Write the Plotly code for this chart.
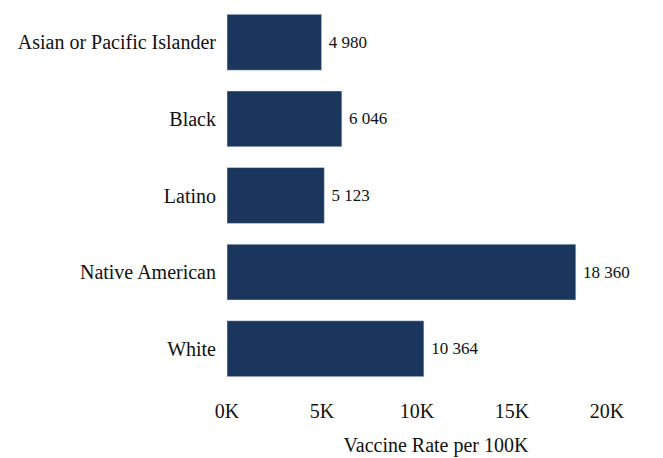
import plotly.graph_objects as go

categories = ["Asian or Pacific Islander", "Black", "Latino", "Native American", "White"]
values = [4980, 6046, 5123, 18360, 10364]
tick_vals = [0, 5000, 10000, 15000, 20000]
tick_text = ["0K", "5K", "10K", "15K", "20K"]

fig = go.Figure(go.Bar(
    x=values, y=categories, orientation="h",
    marker=dict(color="#1b365d"),
    text=values, texttemplate=" %{x:,}", textposition="outside",
    textfont=dict(size=17, color="#111"),
    cliponaxis=False, width=0.73,
))
fig.update_layout(
    width=663, height=458,
    margin=dict(l=227, r=18, t=4, b=71),
    separators=". ",
    font=dict(family="Liberation Serif", size=17, color="#111"),
    plot_bgcolor="white", paper_bgcolor="white",
    showlegend=False,
    xaxis=dict(range=[0, 22000], tickvals=tick_vals, ticktext=tick_text,
               showgrid=False, zeroline=False, showline=False, automargin=True,
               ticks="outside", ticklen=6, tickcolor="rgba(0,0,0,0)",
               title=dict(text="Vaccine Rate per 100K", standoff=16, font=dict(size=20)),
               tickfont=dict(size=20)),
    yaxis=dict(autorange="reversed", showgrid=False, zeroline=False, automargin=False,
               ticksuffix="  ", tickfont=dict(size=20)),
)
fig.write_html("out.html", post_script="document.body.style.margin='0';",
               config={"displayModeBar": False})
